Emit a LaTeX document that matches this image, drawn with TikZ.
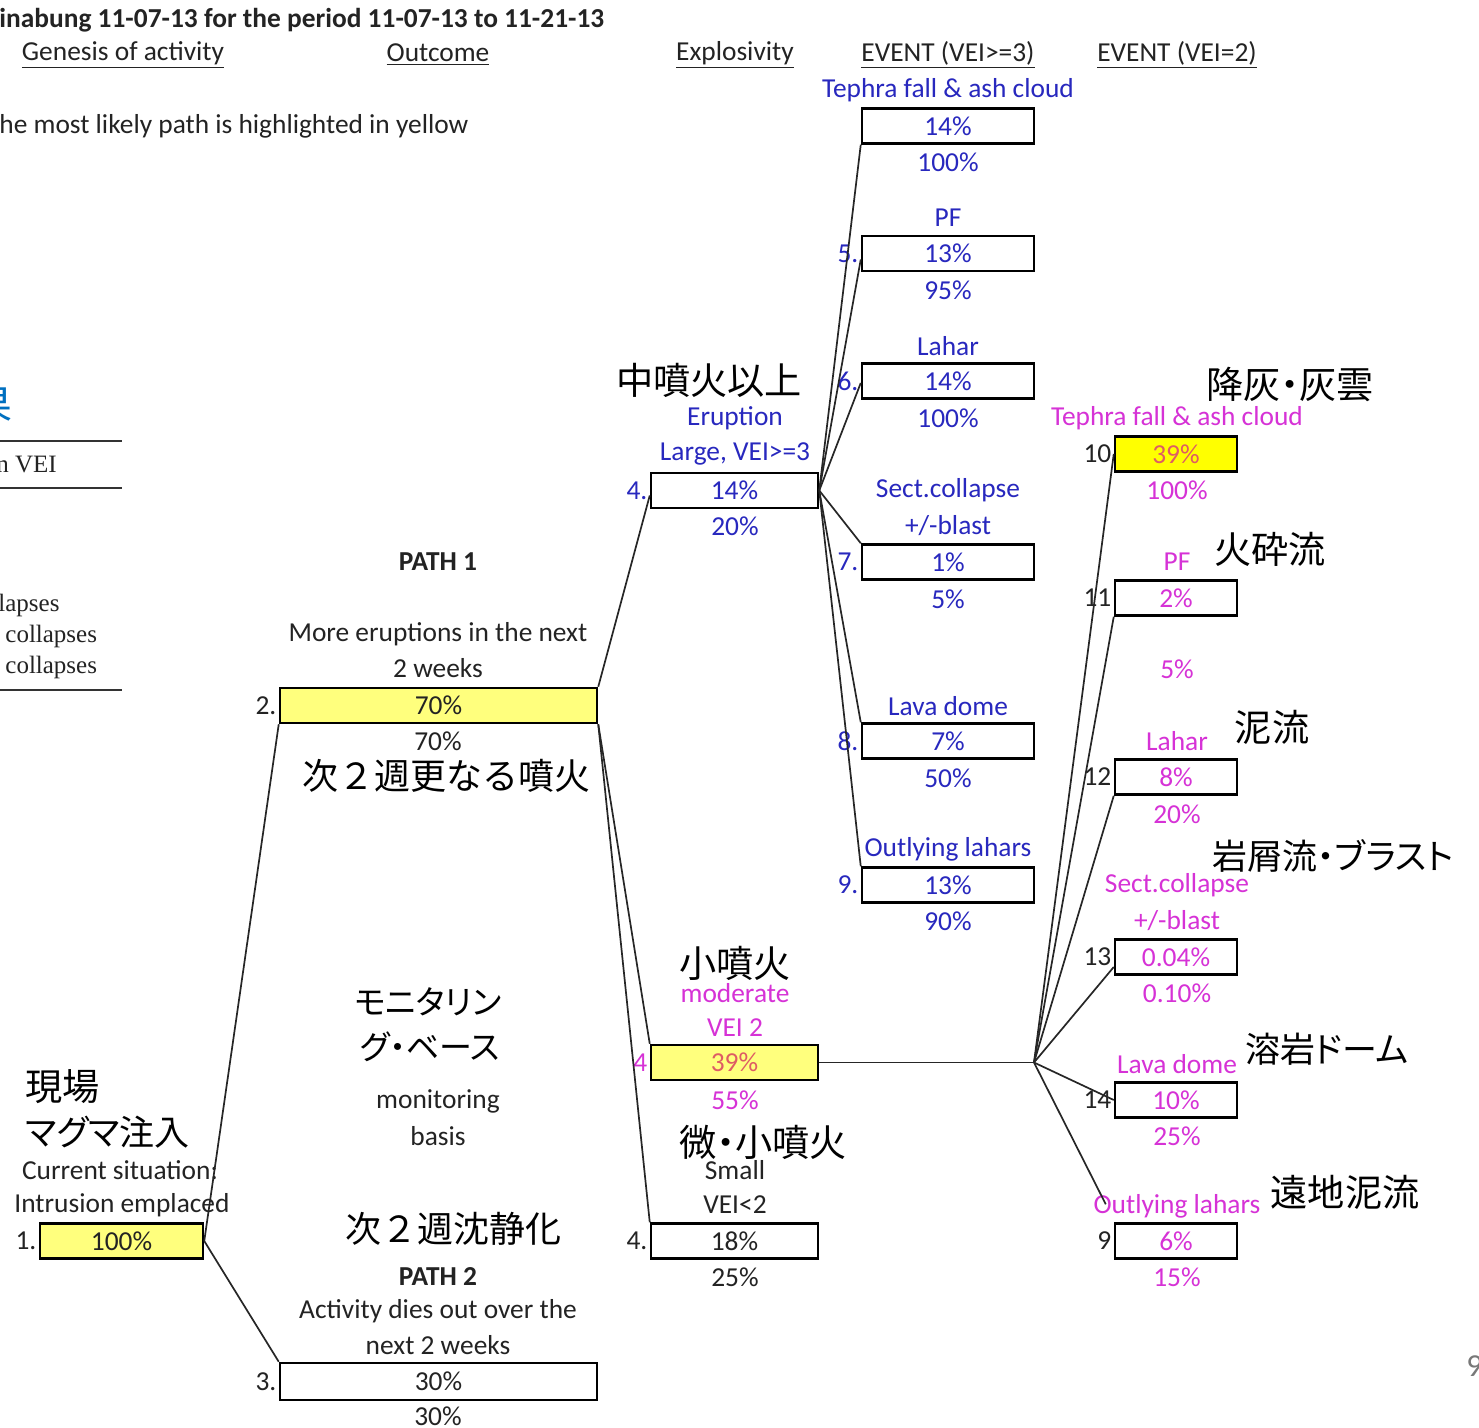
\documentclass[tikz,border=0pt]{standalone}
\usepackage{fontspec}
\setmainfont{Carlito}
\newfontfamily\jp[RawFeature=+palt]{Noto Sans CJK JP}
\newfontfamily\jpf{Noto Sans CJK JP}
\newfontfamily\serifp{Liberation Serif}
\usetikzlibrary{calc}
\definecolor{eblue}{RGB}{40,40,190}
\definecolor{emag}{RGB}{214,50,214}
\definecolor{eyel}{RGB}{255,255,125}
\definecolor{byel}{RGB}{255,255,0}
\definecolor{jblue}{RGB}{0,112,192}
\definecolor{txt}{RGB}{35,35,35}
\definecolor{oran}{RGB}{222,92,100}
\definecolor{pgray}{RGB}{120,120,120}
\begin{document}
\begin{tikzpicture}[x=0.5pt,y=-0.5pt,
  box/.style={draw=black,line width=1.25pt,minimum height=17.5pt,inner sep=0pt,font=\fontsize{13.7}{15}\selectfont},
  bigbox/.style={box,minimum width=158.5pt},
  midbox/.style={box,minimum width=83.5pt},
  bluebox/.style={box,minimum width=86pt,text=eblue},
  magbox/.style={box,minimum width=61pt,text=emag},
  lbl/.style={font=\fontsize{13.7}{15}\selectfont,inner sep=0pt,text=txt},
  blbl/.style={lbl,text=eblue},
  mlbl/.style={lbl,text=emag},
  hdr/.style={lbl},
  jlab/.style={font=\jp\fontsize{18.6}{20}\selectfont,inner sep=0pt,text=black},
  jlabk/.style={jlab,font=\jp\fontsize{17.5}{19}\selectfont},
  jlabf/.style={jlab,font=\jpf\fontsize{18}{20}\selectfont},
  slab/.style={font=\serifp\fontsize{12.5}{14}\selectfont,inner sep=0pt,text=txt,anchor=west},
  num/.style={lbl,anchor=east,xshift=-1pt},
  conn/.style={line width=0.85pt,draw=black!85}]
\clip (0,0) rectangle (1479,1428);
\fill[white] (0,0) rectangle (1479,1428);

% title and headers
\node[lbl,anchor=west,font=\bfseries\fontsize{13.7}{15}\selectfont] (title) at (-1,20) {inabung 11-07-13 for the period 11-07-13 to 11-21-13};
\node[hdr] (h1) at (123,55) {\underline{Genesis of activity}};
\node[hdr] (h2) at (438,55) {\underline{Outcome}};
\node[hdr] (h3) at (735,55) {\underline{Explosivity}};
\node[hdr] (h4) at (948,55) {\underline{EVENT (VEI>=3)}};
\node[hdr] (h5) at (1177,55) {\underline{EVENT (VEI=2)}};
\node[lbl,anchor=west] (note) at (-1,126) {he most likely path is highlighted in yellow};

% partial left table
\node[font=\jpf\fontsize{20}{22}\selectfont,text=jblue,inner sep=0pt,anchor=east] (kanji) at (13,404) {結果};
\draw[line width=1pt,black!80] (0,441) -- (122,441);
\draw[line width=1pt,black!80] (0,488) -- (122,488);
\draw[line width=1pt,black!80] (0,690) -- (122,690);
\node[slab] (t1) at (-4,465) {n VEI};
\node[slab] (t2) at (-2,605) {lapses};
\node[slab] (t3) at (5,636) {collapses};
\node[slab] (t4) at (5,667) {collapses};

% node 1
\node[jlab,anchor=west] (j1) at (25,1087) {現場};
\node[jlabk,anchor=west] (j2) at (25,1132) {マグマ注入};
\node[lbl] (cs1) at (120,1170) {Current situation:};
\node[lbl] (cs2) at (122,1205) {Intrusion emplaced};
\node[box,minimum width=81.5pt,fill=eyel,text=txt] (b1) at (121.5,1241) {100\%};
\node[num] at (b1.west) {1.};

% node 2
\node[lbl,font=\bfseries\fontsize{13.7}{15}\selectfont] (p1) at (438,562) {PATH 1};
\node[lbl] (p1a) at (438,634) {More eruptions in the next};
\node[lbl] (p1b) at (438,668) {2 weeks};
\node[bigbox,fill=eyel,text=txt] (b2) at (438.5,705.5) {70\%};
\node[num] at (b2.west) {2.};
\node[lbl] (p1c) at (438,741) {70\%};
\node[jlabf] (j3) at (446,776) {次２週更なる噴火};

% monitoring
\node[jlab,font=\jp\fontsize{16.5}{18}\selectfont] (j4) at (428,1002) {モニタリン};
\node[jlab,font=\jp\fontsize{16.5}{18}\selectfont] (j5) at (430,1047) {グ・ベース};
\node[lbl] (m1) at (438,1101) {monitoring};
\node[lbl] (m2) at (438,1136) {basis};

% node 3
\node[jlabf] (j6) at (453,1229) {次２週沈静化};
\node[lbl,font=\bfseries\fontsize{13.7}{15}\selectfont] (p2) at (438,1277) {PATH 2};
\node[lbl] (p2a) at (438,1311) {Activity dies out over the};
\node[lbl] (p2b) at (438,1345) {next 2 weeks};
\node[bigbox,minimum height=18.5pt,text=txt] (b3) at (438.5,1381.5) {30\%};
\node[num] at (b3.west) {3.};
\node[lbl] (p2c) at (438,1416) {30\%};

% explosivity column
\node[jlab] (j7) at (709,380) {中噴火以上};
\node[blbl] (e1) at (735,418) {Eruption};
\node[blbl] (e2) at (735,454) {Large, VEI>=3};
\node[midbox,text=eblue] (b4a) at (734.5,490.5) {14\%};
\node[num,text=eblue] at (b4a.west) {4.};
\node[blbl] (e3) at (735,526) {20\%};

\node[jlab] (j8) at (735,963) {小噴火};
\node[mlbl] (e4) at (735,993) {moderate};
\node[mlbl] (e5) at (735,1028) {VEI 2};
\node[midbox,fill=eyel,text=oran] (b4b) at (734.5,1062.5) {39\%};
\node[num,text=emag] at (b4b.west) {4};
\node[mlbl] (e6) at (735,1100) {55\%};

\node[jlab] (j9) at (763,1142) {微・小噴火};
\node[lbl] (e7) at (735,1170) {Small};
\node[lbl] (e8) at (735,1205) {VEI<2};
\node[midbox,text=txt] (b4c) at (734.5,1241) {18\%};
\node[num] at (b4c.west) {4.};
\node[lbl] (e9) at (735,1277) {25\%};

% EVENT VEI>=3 column
\node[blbl] (v1) at (948,90) {Tephra fall \& ash cloud};
\node[bluebox] (bt) at (948,126) {14\%};
\node[blbl] (v1b) at (948,162) {100\%};
\node[blbl] (v2) at (948,218) {PF};
\node[bluebox] (b5) at (948,253.5) {13\%};
\node[num,text=eblue] at (b5.west) {5.};
\node[blbl] (v2b) at (948,290) {95\%};
\node[blbl] (v3) at (948,346) {Lahar};
\node[bluebox] (b6) at (948,381) {14\%};
\node[num,text=eblue] at (b6.west) {6.};
\node[blbl] (v3b) at (948,418) {100\%};
\node[blbl] (v4) at (948,490) {Sect.collapse};
\node[blbl] (v4a) at (948,526) {+/-blast};
\node[bluebox] (b7) at (948,562) {1\%};
\node[num,text=eblue] at (b7.west) {7.};
\node[blbl] (v4b) at (948,599) {5\%};
\node[blbl] (v5) at (948,706) {Lava dome};
\node[bluebox] (b8) at (948,741) {7\%};
\node[num,text=eblue] at (b8.west) {8.};
\node[blbl] (v5b) at (948,778) {50\%};
\node[blbl] (v6) at (948,849) {Outlying lahars};
\node[bluebox] (b9) at (948,885) {13\%};
\node[num,text=eblue] at (b9.west) {9.};
\node[blbl] (v6b) at (948,921) {90\%};

% EVENT VEI=2 column
\node[jlab] (k1) at (1290,384) {降灰・灰雲};
\node[mlbl] (w1) at (1177,418) {Tephra fall \& ash cloud};
\node[magbox,fill=byel,text=oran] (b10) at (1176,454) {39\%};
\node[num] at (b10.west) {10};
\node[mlbl] (w1b) at (1177,490) {100\%};
\node[jlab] (k2) at (1270,549) {火砕流};
\node[mlbl] (w2) at (1177,562) {PF};
\node[magbox] (b11) at (1176,598) {2\%};
\node[num] at (b11.west) {11};
\node[mlbl] (w2b) at (1177,669) {5\%};
\node[jlab] (k3) at (1272,727) {泥流};
\node[mlbl] (w3) at (1177,741) {Lahar};
\node[magbox] (b12) at (1176,777) {8\%};
\node[num] at (b12.west) {12};
\node[mlbl] (w3b) at (1177,814) {20\%};
\node[jlabk] (k4) at (1333,856) {岩屑流・ブラスト};
\node[mlbl] (w4) at (1177,885) {Sect.collapse};
\node[mlbl] (w4a) at (1177,921) {+/-blast};
\node[magbox] (b13) at (1176,957) {0.04\%};
\node[num] at (b13.west) {13};
\node[mlbl] (w4b) at (1177,993) {0.10\%};
\node[jlabk] (k5) at (1327,1049) {溶岩ドーム};
\node[mlbl] (w5) at (1177,1064) {Lava dome};
\node[magbox] (b14) at (1176,1100) {10\%};
\node[num] at (b14.west) {14};
\node[mlbl] (w5b) at (1177,1136) {25\%};
\node[jlab] (k6) at (1345,1192) {遠地泥流};
\node[mlbl] (w6) at (1177,1206) {Outlying lahars};
\node[magbox] (b15) at (1176,1241) {6\%};
\node[num] at (b15.west) {9};
\node[mlbl] (w6b) at (1177,1277) {15\%};

\node[lbl,anchor=west,text=pgray,font=\fontsize{16}{18}\selectfont] (pg) at (1466,1366) {9};

% connectors
\coordinate (hub) at (1034,1062.5);
\draw[conn] (b1.east) -- (b2.south west);
\draw[conn] (b1.east) -- (b3.north west);
\draw[conn] (b2.north east) -- ($(b4a.west)+(0,5)$);
\draw[conn] (b2.south east) -- (b4b.north west);
\draw[conn] (b2.south east) -- (b4c.north west);
\draw[conn] (b4a.east) -- (bt.south west);
\draw[conn] (b4a.east) -- ($(b5.west)+(0,6)$);
\draw[conn] (b4a.east) -- ($(b6.west)+(0,2)$);
\draw[conn] (b4a.east) -- (b7.north west);
\draw[conn] (b4a.east) -- (b8.north west);
\draw[conn] (b4a.east) -- (b9.north west);
\draw[conn] (b4b.east) -- (hub);
\draw[conn] (hub) -- (b10.west);
\draw[conn] (hub) -- (b11.south west);
\draw[conn] (hub) -- (b12.south west);
\draw[conn] (hub) -- ($(b13.west)+(0,10)$);
\draw[conn] (hub) -- (b14.west);
\draw[conn] (hub) -- ($(b15.north west)+(-8,-18)$);
\end{tikzpicture}
\end{document}
